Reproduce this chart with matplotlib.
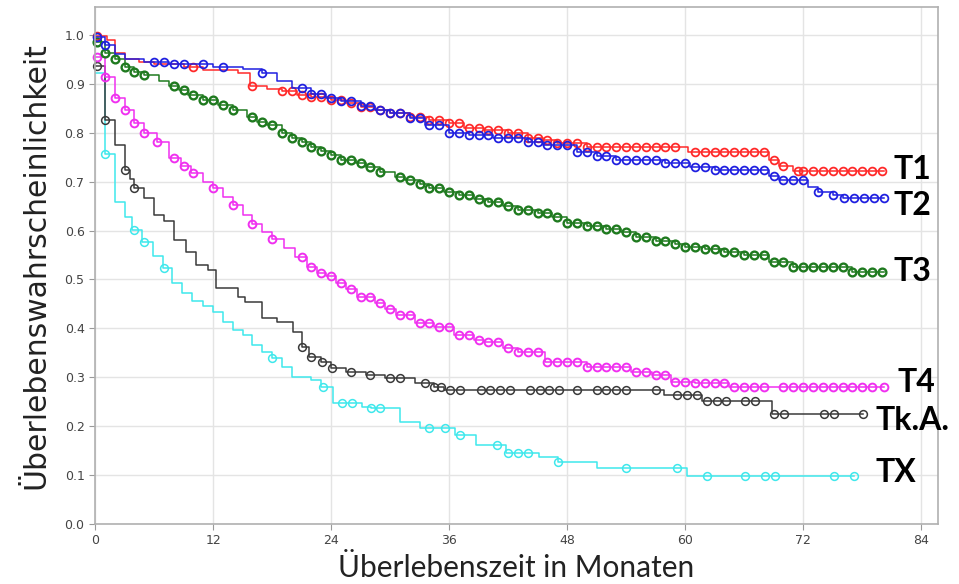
import numpy as np
import matplotlib.pyplot as plt

# Kaplan-Meier Stufen: Zeitpunkt (Monate) und Überlebenswahrscheinlichkeit ab diesem Zeitpunkt
t1_t = [0, 1.2, 2, 3, 4.5, 6, 9, 11, 14.5, 15.8, 17.5, 19, 20.5, 22, 24, 25.5, 27, 28.5, 30, 32, 34,
        36, 37.5, 39.5, 42, 44, 45.5, 47, 50, 60.3, 68.5, 69.5, 71]
t1_s = [0.998, 0.99, 0.963, 0.95, 0.945, 0.94, 0.935, 0.928, 0.922, 0.895, 0.89, 0.885, 0.878, 0.872,
        0.866, 0.86, 0.852, 0.847, 0.84, 0.833, 0.826, 0.82, 0.81, 0.806, 0.8, 0.79, 0.785, 0.779,
        0.771, 0.761, 0.745, 0.732, 0.722]
t1_end = 80.2
t1_cens = [0.2, 10, 16, 19, 20, 21, 22, 23, 24, 25, 26, 27, 28, 29, 30, 31, 32, 33, 34, 35, 36, 37, 38,
           39, 40, 41, 42, 43, 44, 45, 46, 47, 48, 49, 50, 51, 52, 53, 54, 55, 56, 57, 58, 59, 61, 62,
           63, 64, 65, 66, 67, 68, 69, 70, 71.5, 72, 73, 74, 75, 76, 77, 78, 79, 80]

t2_t = [0, 1, 2, 3, 5, 7.5, 12, 15, 17, 18.5, 20, 22, 23.5, 25, 27, 28.5, 30, 32, 33.5, 36, 38, 40.5,
        44, 45.5, 49, 51, 53, 58, 60.5, 63, 68.5, 69.5, 72.5, 73.5, 75, 76]
t2_s = [0.995, 0.98, 0.96, 0.95, 0.945, 0.94, 0.935, 0.93, 0.922, 0.905, 0.892, 0.88, 0.871, 0.865,
        0.855, 0.847, 0.84, 0.83, 0.816, 0.8, 0.795, 0.789, 0.78, 0.775, 0.761, 0.752, 0.744, 0.738,
        0.73, 0.724, 0.712, 0.703, 0.69, 0.679, 0.672, 0.667]
t2_end = 80.2
t2_cens = [0.2, 1, 6, 7, 8, 9, 11, 13, 17, 21, 22, 23, 24, 25, 26, 27, 28, 29, 30, 31, 32, 33, 34, 35,
           36, 37, 38, 39, 40, 41, 42, 43, 44, 45, 46, 47, 48, 49, 50, 51, 52, 53, 54, 55, 56, 57, 58,
           59, 60, 61, 62, 63, 64, 65, 66, 67, 68, 69, 70, 71, 72, 73.5, 75, 76.2, 77.2, 78.2, 79.2, 80.2]

t3_t = [0, 1, 2, 3, 4, 5, 6.5, 7.5, 8.5, 9.5, 11, 12.5, 14, 15.5, 16.5, 17.5, 19, 20, 21, 22, 23, 24,
        25, 26.5, 27.5, 29, 30.5, 31.5, 33, 34, 35.5, 37, 38.5, 40, 41.5, 43, 45, 46.5, 48, 50, 52,
        53.5, 55, 57, 59, 60, 62, 64, 66, 68.5, 71, 77]
t3_s = [0.986, 0.963, 0.95, 0.935, 0.925, 0.918, 0.905, 0.895, 0.888, 0.878, 0.867, 0.857, 0.847,
        0.832, 0.822, 0.815, 0.8, 0.79, 0.78, 0.771, 0.763, 0.755, 0.745, 0.738, 0.73, 0.72, 0.71,
        0.703, 0.695, 0.687, 0.678, 0.672, 0.665, 0.658, 0.65, 0.642, 0.636, 0.628, 0.616, 0.61,
        0.603, 0.596, 0.587, 0.578, 0.572, 0.567, 0.562, 0.557, 0.551, 0.536, 0.526, 0.516]
t3_end = 80.2
t3_cens = [0.2, 1, 2, 3, 4, 5, 8, 9, 10, 11, 12, 13, 14, 16, 17, 18, 19, 20, 21, 22, 23, 24, 25, 26,
           27, 28, 29, 31, 32, 33, 34, 35, 36, 37, 38, 39, 40, 41, 42, 43, 44, 45, 46, 47, 48, 49, 50,
           51, 52, 53, 54, 55, 56, 57, 58, 59, 60, 61, 62, 63, 64, 65, 66, 67, 68, 69, 70, 71, 72, 73,
           74, 75, 76, 77, 78, 79, 80]

t4_t = [0, 1, 2, 3, 4, 5, 6.3, 7.5, 8.7, 9.8, 11, 12, 13, 14, 15, 16, 17, 18, 19.2, 20.3, 21.6, 22.6,
        23.5, 24.5, 25.5, 26.6, 28.5, 29.5, 30.6, 32.5, 34.5, 36.5, 38.5, 39.5, 41.5, 43, 45.8, 50,
        54.5, 56.6, 58.6, 61, 64.5]
t4_s = [0.955, 0.914, 0.871, 0.847, 0.82, 0.8, 0.78, 0.749, 0.732, 0.718, 0.7, 0.687, 0.668, 0.652,
        0.632, 0.613, 0.598, 0.583, 0.565, 0.546, 0.526, 0.513, 0.507, 0.493, 0.48, 0.464, 0.452,
        0.44, 0.427, 0.411, 0.403, 0.386, 0.376, 0.372, 0.36, 0.352, 0.331, 0.321, 0.311, 0.305,
        0.29, 0.288, 0.28]
t4_end = 80.2
t4_cens = [0.2, 1, 2, 3, 4, 5, 6.3, 8, 9, 10, 12, 14, 16, 18, 21, 22, 23, 24, 25, 26, 27, 28, 29, 30,
           31, 32, 33, 34, 35, 36, 37, 38, 39, 40, 41, 42, 43, 44, 45, 46, 47, 48, 49, 50, 51, 52, 53,
           54, 55, 56, 57, 58, 59, 60, 61, 62, 63, 64, 65, 66, 67, 68, 70, 71, 72, 73, 74, 75, 76, 77,
           78, 79, 80.2]

tka_t = [0, 1, 2, 3, 3.6, 4, 5, 6, 7, 8, 9.2, 10.3, 11.5, 12.3, 14.5, 15.2, 17, 18.5, 20.1, 21, 21.8,
         23, 24, 25.5, 27.5, 29.5, 32.5, 34.5, 35.5, 57.8, 61.7, 68.8]
tka_s = [0.937, 0.826, 0.775, 0.724, 0.705, 0.687, 0.667, 0.632, 0.62, 0.581, 0.556, 0.53, 0.52,
         0.482, 0.465, 0.454, 0.421, 0.413, 0.393, 0.362, 0.342, 0.331, 0.319, 0.311, 0.305, 0.298,
         0.288, 0.28, 0.274, 0.264, 0.252, 0.225]
tka_end = 78.1
tka_cens = [0.2, 1, 3, 4, 21, 22, 23.1, 24.1, 26, 28, 30, 31, 33.5, 34.5, 35.2, 36.1, 37.1, 39.2, 40.2,
            41.2, 42.2, 44.2, 45.2, 46.2, 47.2, 49, 51, 52, 53, 54, 57, 59.2, 60.2, 61.2, 62.2, 63.2,
            64.2, 66.1, 67.1, 69, 70.1, 74.1, 75.1, 78.1]

tx_t = [0, 1, 2, 3, 3.8, 4.8, 5.9, 6.9, 7.8, 8.8, 9.9, 11, 12, 13, 14, 15, 16, 17, 18, 19, 20, 22,
        23, 24.2, 27.1, 28.1, 31, 33, 36.6, 38.7, 41.8, 45.1, 47.1, 51, 60.2]
tx_s = [0.922, 0.757, 0.659, 0.628, 0.601, 0.577, 0.547, 0.523, 0.492, 0.472, 0.455, 0.446, 0.434,
        0.414, 0.397, 0.387, 0.366, 0.352, 0.339, 0.322, 0.301, 0.294, 0.281, 0.248, 0.24, 0.237,
        0.209, 0.196, 0.182, 0.162, 0.145, 0.138, 0.127, 0.114, 0.098]
tx_end = 77.2
tx_cens = [1, 4, 5, 7, 18, 23.2, 25.1, 26.1, 28.1, 29, 34, 35.6, 37.1, 40.9, 42, 43, 44, 47.1, 54,
           59.2, 62.2, 66.1, 68.1, 69.1, 75.1, 77.2]

labels = ['T1', 'T2', 'T3', 'T4', 'Tk.A.', 'TX']
label_pos = [(81.2, 0.724), (81.2, 0.652), (81.2, 0.517), (81.6, 0.29), (79.4, 0.212), (79.4, 0.106)]

fig = plt.figure(figsize=(9.59, 5.84), dpi=100)
ax = fig.add_axes([0.0991, 0.1027, 0.8789, 0.8853])


def km(t, s, end, cens, color, mew=1.1):
    t = np.array(t)
    s = np.array(s)
    ax.step(np.append(t, end), np.append(s, s[-1]), where='post', color=color, lw=1.1)
    c = np.array(cens)
    cy = s[np.searchsorted(t, c, side='right') - 1]
    ax.plot(c, cy, 'o', mfc='none', mec=color, ms=5.6, mew=mew, clip_on=False)


km(tx_t, tx_s, tx_end, tx_cens, '#3fe8ec')
km(tka_t, tka_s, tka_end, tka_cens, '#3a3a3a')
km(t4_t, t4_s, t4_end, t4_cens, '#f030f0', 1.4)
km(t3_t, t3_s, t3_end, t3_cens, '#1f7a1f', 1.7)
km(t1_t, t1_s, t1_end, t1_cens, '#ff2a2a', 1.3)
km(t2_t, t2_s, t2_end, t2_cens, '#2020e0', 1.3)

for lab, (x, y) in zip(labels, label_pos):
    ax.text(x, y, lab, fontsize=23, fontweight='bold', family='Lato', va='center', ha='left',
            clip_on=False)

ax.set_xlim(0, 85.7)
ax.set_ylim(0, 1.057)
ax.set_xticks(np.arange(0, 85, 12))
ax.set_yticks(np.arange(0, 1.01, 0.1))
ax.set_yticklabels([f'{v:.1f}' for v in np.arange(0, 1.01, 0.1)])
ax.grid(color='#e4e4e4', lw=1)
ax.set_axisbelow(True)
for sp in ax.spines.values():
    sp.set_color('#b0b0b0')
    sp.set_linewidth(1.2)
ax.tick_params(colors='#9a9a9a', labelcolor='#444444', labelsize=9, length=4)

ax.set_xlabel('Überlebenszeit in Monaten', family='Lato', fontsize=21.5, color='#222222', labelpad=5)
ax.set_ylabel('Überlebenswahrscheinlichkeit', fontsize=21.5, color='#222222', labelpad=10)

fig.savefig('out.png', dpi=100)
